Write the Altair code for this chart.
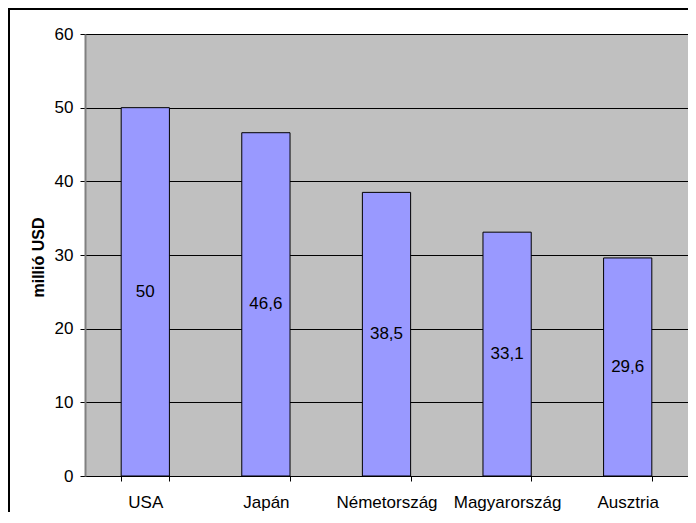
import altair as alt
import pandas as pd

countries = ["USA", "Japán", "Németország", "Magyarország", "Ausztria"]
values = [50, 46.6, 38.5, 33.1, 29.6]
labels = ["50", "46,6", "38,5", "33,1", "29,6"]
y_ticks = [0, 10, 20, 30, 40, 50, 60]

df = pd.DataFrame({"country": countries, "value": values, "label": labels})
frame = pd.DataFrame({"k": [0]})

FONT = "Liberation Sans"
FS = 17

x_enc = alt.X(
    "country:N",
    sort=None,
    title=None,
    scale=alt.Scale(paddingInner=0.6, paddingOuter=0.3),
    axis=alt.Axis(
        labelAngle=0,
        labelFont=FONT,
        labelFontSize=FS,
        labelColor="black",
        labelPadding=13,
        tickBand="extent",
        tickColor="black",
        tickSize=5,
        domainColor="black",
        domainWidth=1,
        grid=False,
    ),
)

y_enc = alt.Y(
    "value:Q",
    scale=alt.Scale(domain=[0, 60], nice=False),
    axis=alt.Axis(
        values=y_ticks,
        title="millió USD",
        titleFont=FONT,
        titleFontSize=16,
        titleFontWeight="bold",
        titleColor="black",
        titleX=-47,
        titleY=223,
        titleAngle=270,
        titleBaseline="middle",
        labelFont=FONT,
        labelFontSize=FS,
        labelColor="black",
        labelPadding=7,
        tickColor="black",
        tickSize=5,
        domainColor="#808080",
        domainWidth=2,
        grid=True,
        gridColor="black",
        gridWidth=1,
    ),
)

bars = alt.Chart(df).mark_bar(
    color="#9999FF", stroke="black", strokeWidth=1
).encode(x=x_enc, y=y_enc)

texts = alt.Chart(df).transform_calculate(mid="datum.value / 2").mark_text(
    font=FONT, fontSize=FS, color="black", baseline="middle", align="center"
).encode(
    x=alt.X("country:N", sort=None),
    y=alt.Y("mid:Q"),
    text="label:N",
)

border_left = alt.Chart(frame).mark_rule(color="black", strokeWidth=2).encode(
    x=alt.value(-76), y=alt.value(-25), y2=alt.value(520)
)
border_top = alt.Chart(frame).mark_rule(color="black", strokeWidth=2).encode(
    x=alt.value(-77), x2=alt.value(700), y=alt.value(-25)
)

chart = (
    alt.layer(bars, texts, border_left, border_top)
    .properties(
        width=603,
        height=442,
        autosize=alt.AutoSizeParams(type="none"),
        padding={"left": 77, "top": 26, "right": 0, "bottom": 36},
        background="white",
    )
    .configure_view(fill="#C0C0C0", stroke="#808080", strokeWidth=1)
)

chart.save("out.html", embed_options={"renderer": "svg", "actions": False})
